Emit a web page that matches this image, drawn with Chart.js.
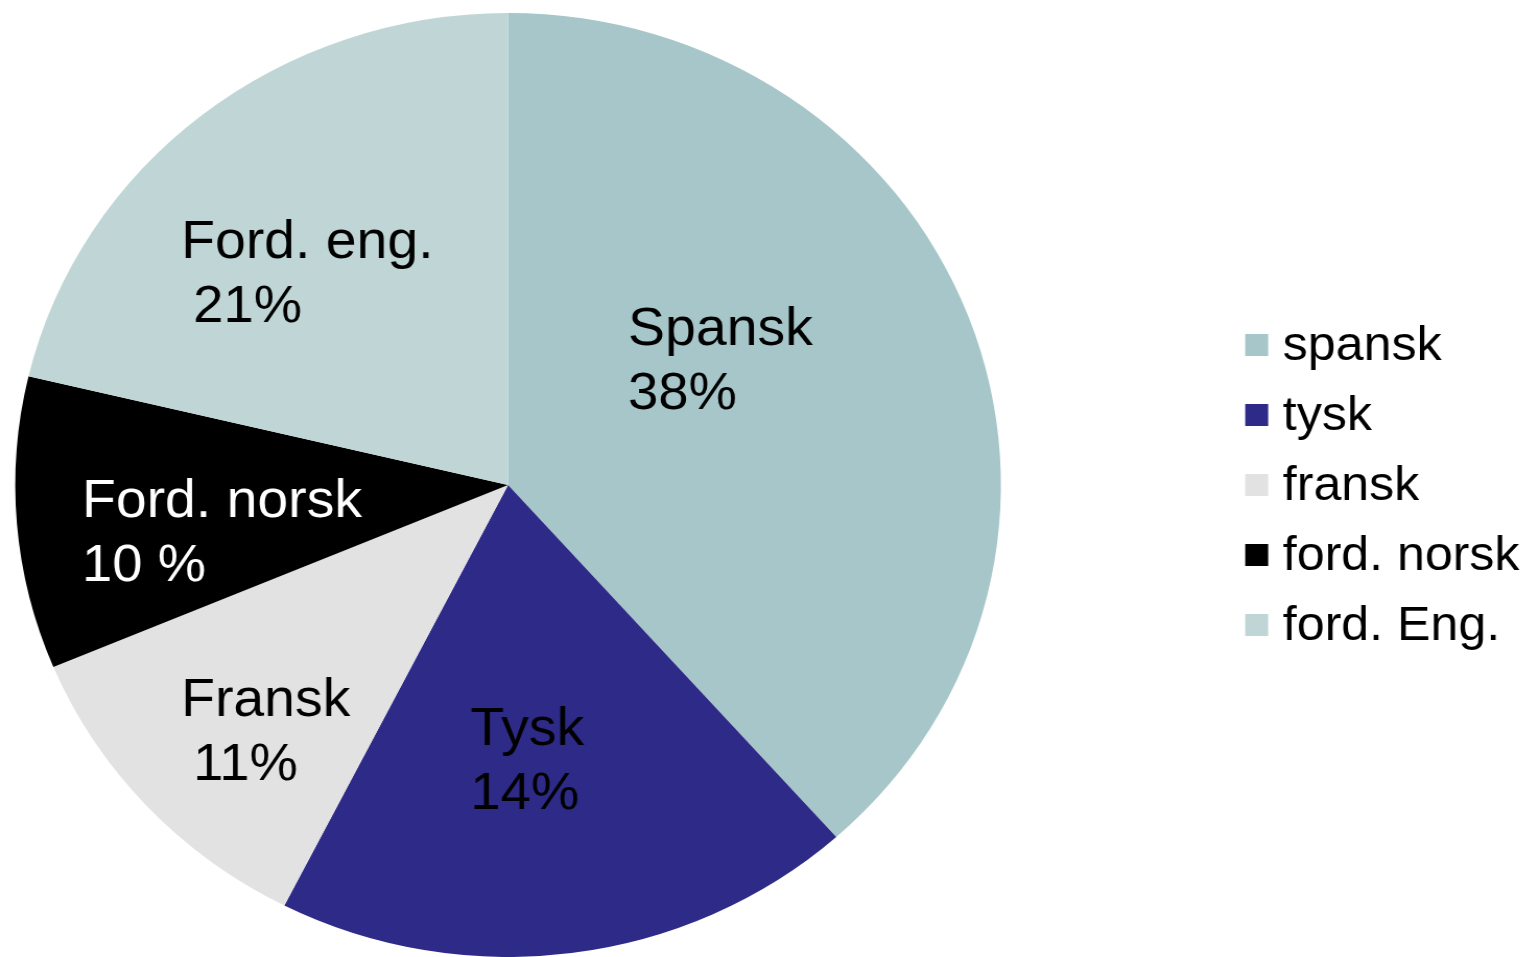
<!DOCTYPE html>
<html>
<head>
<meta charset="utf-8">
<script src="https://cdn.jsdelivr.net/npm/chart.js@4/dist/chart.umd.min.js"></script>
<style>
  html, body { margin: 0; padding: 0; background: #fff; overflow: hidden; }
  /* the reference is slightly stretched sideways, so is the chart */
  #wrap { width: 1474px; height: 957px; transform: scaleX(1.0441); transform-origin: 0 0; }
</style>
</head>
<body>
<div id="wrap"><canvas id="chart"></canvas></div>
<script>
// Data (slice sizes as drawn)
const categories = ['spansk', 'tysk', 'fransk', 'ford. norsk', 'ford. Eng.'];
const shares = [38.4, 19.1, 11.2, 10.0, 21.3];
// Texts printed inside the slices
const sliceTexts = [
  ['Spansk', '38%'],
  ['Tysk', '14%'],
  ['Fransk', ' 11%'],
  ['Ford. norsk', '10 %'],
  ['Ford. eng.', ' 21%']
];
const colors = ['#a6c6c9', '#2e2a87', '#e2e2e2', '#000000', '#c0d5d5'];
const textColors = ['#000', '#000', '#000', '#fff', '#000'];

// Label placement, relative to the pie centre (x, first baseline)
const labelOffsets = [[115, -140], [-36, 260], [-313, 231], [-408, 32], [-313, -227]];

const FONT = '"Liberation Sans", Arial, sans-serif';

// Draws the texts inside the slices
const sliceLabels = {
  id: 'sliceLabels',
  afterDatasetsDraw(chart) {
    const arc = chart.getDatasetMeta(0).data[0];
    if (!arc) return;
    const ctx = chart.ctx;
    ctx.save();
    ctx.font = '53px ' + FONT;
    ctx.textAlign = 'left';
    ctx.textBaseline = 'alphabetic';
    sliceTexts.forEach((lines, i) => {
      ctx.fillStyle = textColors[i];
      lines.forEach((t, j) => {
        // second line a bit tighter, like the original
        if (j > 0) ctx.font = '52px ' + FONT;
        ctx.fillText(t, arc.x + labelOffsets[i][0] - (j > 0 && t[0] === ' ' ? 3 : 0), arc.y + labelOffsets[i][1] + j * 64);
      });
      ctx.font = '53px ' + FONT;
    });
    ctx.restore();
  }
};

// Legend on the right, drawn by hand to match the layout
const sideLegend = {
  id: 'sideLegend',
  afterDraw(chart) {
    const ctx = chart.ctx;
    const x = chart.chartArea.right + 234;
    const y0 = 345;
    ctx.save();
    ctx.font = '48px ' + FONT;
    ctx.textBaseline = 'middle';
    categories.forEach((c, i) => {
      const y = y0 + i * 70;
      ctx.fillStyle = colors[i];
      ctx.fillRect(x, y - 11, 22, 22);
      ctx.fillStyle = '#000';
      ctx.fillText(c, x + 36, y + 2);
    });
    ctx.restore();
  }
};

new Chart(document.getElementById('chart'), {
  type: 'pie',
  data: {
    labels: categories,
    datasets: [{
      data: shares,
      backgroundColor: colors,
      borderWidth: 0,
      hoverOffset: 0
    }]
  },
  options: {
    responsive: true,
    maintainAspectRatio: false,
    animation: false,
    layout: { padding: { left: 14.6, top: 13, right: 515.4, bottom: 0 } },
    plugins: {
      legend: { display: false },
      tooltip: { enabled: false }
    }
  },
  plugins: [sliceLabels, sideLegend]
});
</script>
</body>
</html>
